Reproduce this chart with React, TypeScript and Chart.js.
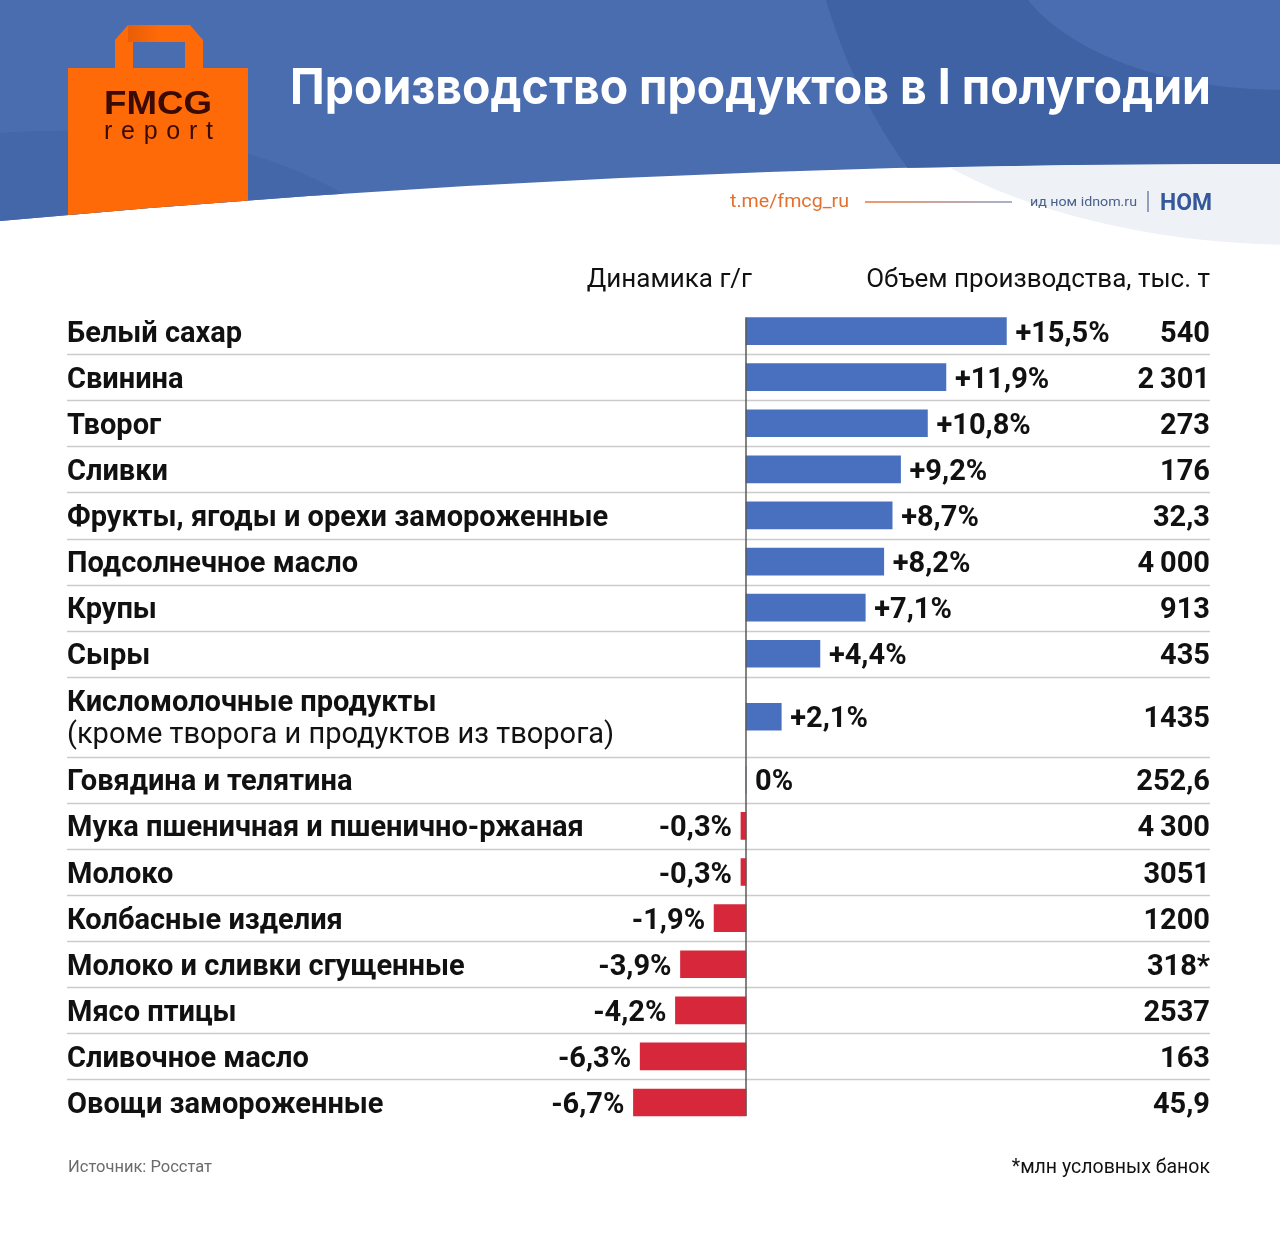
import { useEffect, useRef } from "react";
import { Chart, registerables } from "chart.js";

Chart.register(...registerables);

// ---- data ----
const categories: string[][] = [
  ["Белый сахар"],
  ["Свинина"],
  ["Творог"],
  ["Сливки"],
  ["Фрукты, ягоды и орехи замороженные"],
  ["Подсолнечное масло"],
  ["Крупы"],
  ["Сыры"],
  ["Кисломолочные продукты", "(кроме творога и продуктов из творога)"],
  ["Говядина и телятина"],
  ["Мука пшеничная и пшенично-ржаная"],
  ["Молоко"],
  ["Колбасные изделия"],
  ["Молоко и сливки сгущенные"],
  ["Мясо птицы"],
  ["Сливочное масло"],
  ["Овощи замороженные"],
];

// year-over-year change, %
const changeYoY = [15.5, 11.9, 10.8, 9.2, 8.7, 8.2, 7.1, 4.4, 2.1, 0, -0.3, -0.3, -1.9, -3.9, -4.2, -6.3, -6.7];

// production volume, thousand tonnes
const volumes = [
  "540", "2\u2009301", "273", "176", "32,3", "4\u2009000", "913", "435", "1435",
  "252,6", "4\u2009300", "3051", "1200", "318*", "2537", "163", "45,9",
];

const titleText = "Производство продуктов в I полугодии";
const columnTitles = ["Динамика г/г", "Объем производства, тыс. т"];
const sourceText = "Источник: Росстат";
const footnoteText = "*млн условных банок";
const channelText = "t.me/fmcg_ru";
const publisherText = "ид ном idnom.ru";
const publisherMark = "НОМ";

// ---- layout ----
const W = 1280;
const H = 1237;
const ZERO_X = 746;
const PX_PER_PCT = 16.8;
const X_MIN = -8;
const X_MAX = 16;
const TABLE_TOP = 308;
const ROW_PX = 46.1;
const TWO_LINE_ROW = 1.735;
const LEFT = 67;
const RIGHT = 1210;

const BLUE = "#4870bf";
const RED = "#d6283a";
const INK = "#111111";
const FONT = "Roboto, 'Noto Sans', sans-serif";
const LABEL_PX = 29;

const rowSizes = categories.map((c) => (c.length > 1 ? TWO_LINE_ROW : 1));
const rowStarts: number[] = [];
rowSizes.reduce((acc, s) => {
  rowStarts.push(acc);
  return acc + s;
}, 0);
const rowCenters = rowStarts.map((s, i) => s + rowSizes[i] / 2);
const totalRows = rowSizes.reduce((a, b) => a + b, 0);

const formatChange = (v: number) =>
  v === 0 ? "0%" : `${v > 0 ? "+" : "-"}${Math.abs(v).toFixed(1).replace(".", ",")}%`;

function fitText(ctx: CanvasRenderingContext2D, text: string, x: number, y: number, w: number, font: string) {
  ctx.font = font;
  const m = ctx.measureText(text).width;
  ctx.save();
  ctx.translate(x, y);
  ctx.scale(w / m, 1);
  ctx.textAlign = "left";
  ctx.fillText(text, 0, 0);
  ctx.restore();
}

function wavePath(ctx: CanvasRenderingContext2D) {
  ctx.beginPath();
  ctx.moveTo(0, 221);
  ctx.quadraticCurveTo(640, 161.5, 1280, 164);
}

function drawHeader(ctx: CanvasRenderingContext2D) {
  ctx.save();
  ctx.fillStyle = "#ffffff";
  ctx.fillRect(0, 0, W, H);

  // blue band above the wave, with soft circular shapes
  ctx.save();
  wavePath(ctx);
  ctx.lineTo(1280, 0);
  ctx.lineTo(0, 0);
  ctx.closePath();
  ctx.clip();
  ctx.fillStyle = "#4a6db0";
  ctx.fillRect(0, 0, W, 250);
  ctx.fillStyle = "#3e62a4";
  ctx.beginPath();
  ctx.arc(1350, -150, 545, 0, Math.PI * 2);
  ctx.fill();
  ctx.fillStyle = "#4a6db2";
  ctx.beginPath();
  ctx.ellipse(1280, -60, 275, 150, 0, 0, Math.PI * 2);
  ctx.fill();
  ctx.fillStyle = "#4467aa";
  ctx.beginPath();
  ctx.moveTo(0, 133);
  ctx.bezierCurveTo(150, 124, 300, 140, 420, 250);
  ctx.lineTo(0, 250);
  ctx.closePath();
  ctx.fill();

  // shopping bag logo
  ctx.fillStyle = "#ff6a08";
  ctx.beginPath();
  ctx.moveTo(115, 70);
  ctx.lineTo(115, 40);
  ctx.lineTo(128, 25);
  ctx.lineTo(190, 25);
  ctx.lineTo(203, 40);
  ctx.lineTo(203, 70);
  ctx.lineTo(185, 70);
  ctx.lineTo(185, 42);
  ctx.lineTo(133, 42);
  ctx.lineTo(133, 70);
  ctx.closePath();
  ctx.fill();
  const shade = ctx.createLinearGradient(128, 0, 160, 0);
  shade.addColorStop(0, "rgba(190,70,0,0.35)");
  shade.addColorStop(1, "rgba(190,70,0,0)");
  ctx.fillStyle = shade;
  ctx.fillRect(128, 25, 32, 17);
  ctx.fillStyle = "#ff6a08";
  ctx.fillRect(68, 68, 180, 170);
  ctx.fillStyle = "#3a0b02";
  fitText(ctx, "FMCG", 104, 114, 108, `bold 33px 'Liberation Sans', Arial, sans-serif`);
  ctx.font = `25px 'Liberation Sans', Arial, sans-serif`;
  const chars = "report".split("");
  const natural = chars.reduce((a, c) => a + ctx.measureText(c).width, 0);
  const gap = (109 - natural) / (chars.length - 1);
  let cx = 104;
  ctx.textAlign = "left";
  chars.forEach((c) => {
    ctx.fillText(c, cx, 139);
    cx += ctx.measureText(c).width + gap;
  });
  ctx.restore();

  // light shape below the wave on the right
  ctx.save();
  wavePath(ctx);
  ctx.lineTo(1280, 270);
  ctx.lineTo(0, 270);
  ctx.closePath();
  ctx.clip();
  ctx.fillStyle = "#eef1f6";
  ctx.beginPath();
  ctx.ellipse(1300, 0, 480, 245, 0, 0, Math.PI * 2);
  ctx.fill();
  ctx.restore();

  // title
  ctx.fillStyle = "#ffffff";
  fitText(ctx, titleText, 290, 104, 921, `bold 50px Inter, 'Open Sans', sans-serif`);

  // channel and publisher line
  ctx.fillStyle = "#e2702f";
  fitText(ctx, channelText, 730, 207, 119, `18px ${FONT}`);
  const g = ctx.createLinearGradient(865, 0, 1012, 0);
  g.addColorStop(0, "#e8763a");
  g.addColorStop(1, "#8797bd");
  ctx.strokeStyle = g;
  ctx.lineWidth = 1.5;
  ctx.beginPath();
  ctx.moveTo(865, 202);
  ctx.lineTo(1012, 202);
  ctx.stroke();
  ctx.fillStyle = "#4b5f8c";
  fitText(ctx, publisherText, 1030, 206, 107, `13px ${FONT}`);
  ctx.strokeStyle = "#7484aa";
  ctx.beginPath();
  ctx.moveTo(1148, 191);
  ctx.lineTo(1148, 212);
  ctx.stroke();
  ctx.fillStyle = "#34589a";
  fitText(ctx, publisherMark, 1160, 210, 52, `bold 23px ${FONT}`);
  ctx.restore();
}

const tablePlugin = {
  id: "productionTable",
  beforeDraw(chart: any) {
    drawHeader(chart.ctx);
  },
  beforeDatasetsDraw(chart: any) {
    const { ctx, scales } = chart;
    const y = scales.y;
    ctx.save();
    ctx.strokeStyle = "#cbcbcb";
    ctx.lineWidth = 1.5;
    for (let i = 1; i < rowStarts.length; i++) {
      const py = Math.round(y.getPixelForValue(rowStarts[i])) + 0.5;
      ctx.beginPath();
      ctx.moveTo(LEFT, py);
      ctx.lineTo(RIGHT, py);
      ctx.stroke();
    }
    ctx.restore();
  },
  afterDatasetsDraw(chart: any) {
    const { ctx, scales } = chart;
    const x = scales.x;
    const y = scales.y;
    const meta = chart.getDatasetMeta(0);
    const x0 = x.getPixelForValue(0);
    ctx.save();

    // zero axis
    const firstBar = meta.data[0];
    const lastBar = meta.data[meta.data.length - 1];
    ctx.strokeStyle = "#5a5a5a";
    ctx.lineWidth = 1.5;
    ctx.beginPath();
    ctx.moveTo(x0, firstBar.y - firstBar.height / 2);
    ctx.lineTo(x0, lastBar.y + lastBar.height / 2);
    ctx.stroke();

    ctx.fillStyle = INK;
    ctx.textBaseline = "alphabetic";
    const bold = `bold ${LABEL_PX}px ${FONT}`;
    categories.forEach((lines, i) => {
      const cy = y.getPixelForValue(rowCenters[i]);
      // category name
      ctx.textAlign = "left";
      ctx.font = bold;
      if (lines.length === 1) {
        ctx.fillText(lines[0], LEFT, cy + 10.5);
      } else {
        ctx.fillText(lines[0], LEFT, cy - 6);
        ctx.font = `${LABEL_PX}px ${FONT}`;
        ctx.fillText(lines[1], LEFT, cy + 26);
      }
      // change label
      const v = changeYoY[i];
      const px = x.getPixelForValue(v);
      ctx.font = bold;
      if (v < 0) {
        ctx.textAlign = "right";
        ctx.fillText(formatChange(v), px - 9, cy + 10.5);
      } else {
        ctx.textAlign = "left";
        ctx.fillText(formatChange(v), px + 9, cy + 10.5);
      }
      // volume
      ctx.textAlign = "right";
      ctx.fillText(volumes[i], RIGHT, cy + 10.5);
    });

    // column titles
    ctx.font = `26px ${FONT}`;
    ctx.textAlign = "right";
    ctx.fillText(columnTitles[0], 752, 287);
    ctx.fillText(columnTitles[1], RIGHT, 287);

    // footer
    ctx.fillStyle = "#6b6b6b";
    ctx.font = `16.5px ${FONT}`;
    ctx.textAlign = "left";
    ctx.fillText(sourceText, 68, 1172);
    ctx.fillStyle = INK;
    ctx.font = `19.5px ${FONT}`;
    ctx.textAlign = "right";
    ctx.fillText(footnoteText, RIGHT, 1173);
    ctx.restore();
  },
};

export default function App() {
  const canvasRef = useRef<HTMLCanvasElement | null>(null);

  useEffect(() => {
    document.body.style.margin = "0";
    const canvas = canvasRef.current;
    if (!canvas) return;
    const chart = new Chart(canvas, {
      type: "bar",
      data: {
        datasets: [
          {
            data: changeYoY.map((v, i) => ({ x: v, y: rowCenters[i] })),
            backgroundColor: changeYoY.map((v) => (v >= 0 ? BLUE : RED)),
            borderWidth: 0,
            barThickness: 27,
          },
        ],
      },
      options: {
        indexAxis: "y",
        responsive: false,
        animation: false,
        devicePixelRatio: 1,
        layout: {
          padding: {
            left: ZERO_X + X_MIN * PX_PER_PCT,
            right: W - (ZERO_X + X_MAX * PX_PER_PCT),
            top: TABLE_TOP,
            bottom: H - (TABLE_TOP + totalRows * ROW_PX),
          },
        },
        scales: {
          x: { type: "linear", min: X_MIN, max: X_MAX, display: false, offset: false },
          y: { type: "linear", min: 0, max: totalRows, reverse: true, display: false, offset: false },
        },
        plugins: {
          legend: { display: false },
          tooltip: { enabled: false },
          title: { display: false },
        },
      },
      plugins: [tablePlugin],
    } as any);
    return () => chart.destroy();
  }, []);

  return (
    <div style={{ width: W, height: H, position: "relative" }}>
      <canvas ref={canvasRef} width={W} height={H} style={{ display: "block", width: W, height: H }} />
    </div>
  );
}
